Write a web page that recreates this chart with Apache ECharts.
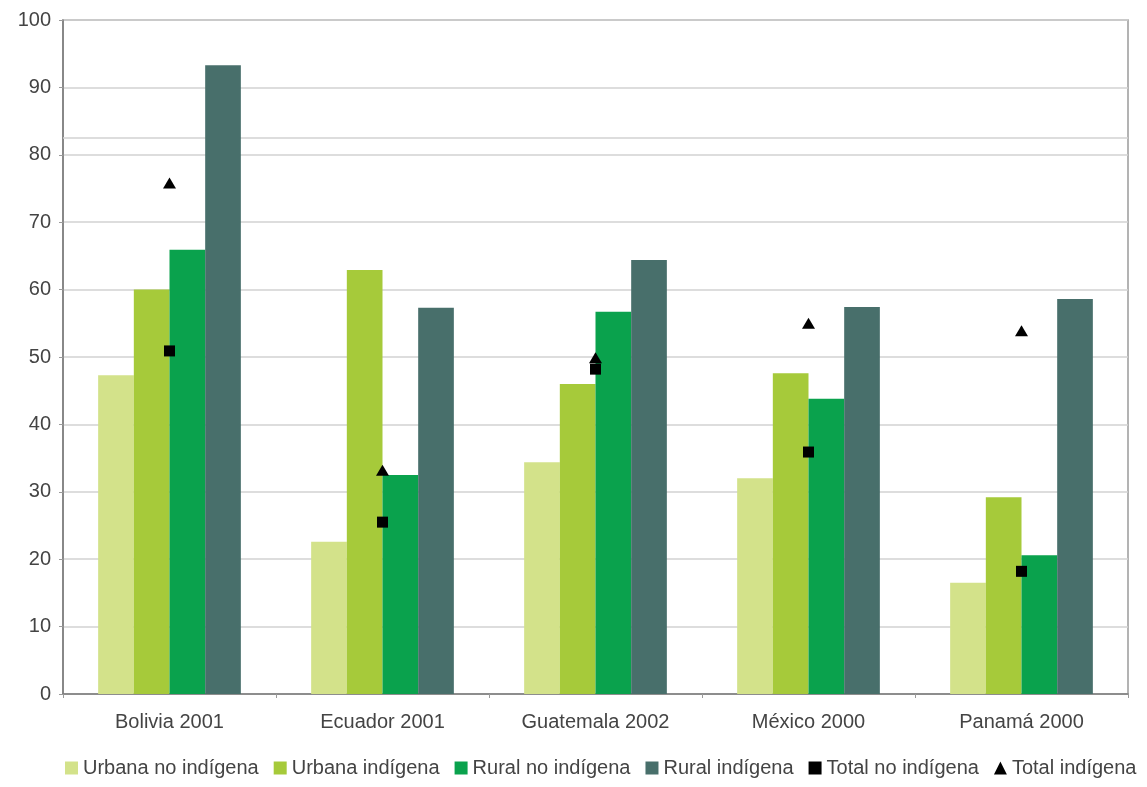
<!DOCTYPE html>
<html>
<head>
<meta charset="utf-8">
<script src="https://cdn.jsdelivr.net/npm/echarts@6/dist/echarts.min.js"></script>
<style>
  html, body { margin: 0; padding: 0; background: #fff; }
  #chart { width: 1147px; height: 787px; }
</style>
</head>
<body>
<div id="chart"></div>
<script>
// Countries and census years
const categories = ['Bolivia 2001', 'Ecuador 2001', 'Guatemala 2002', 'México 2000', 'Panamá 2000'];

// Percentages by area and population group
const urbanaNoIndigena = [47.3, 22.6, 34.4, 32.0, 16.5];
const urbanaIndigena   = [60.0, 62.9, 46.0, 47.6, 29.2];
const ruralNoIndigena  = [65.9, 32.5, 56.7, 43.8, 20.6];
const ruralIndigena    = [93.3, 57.3, 64.4, 57.4, 58.6];
const totalNoIndigena  = [50.9, 25.5, 48.2, 35.9, 18.2];
const totalIndigena    = [75.8, 33.2, 49.9, 55.0, 53.9];

// Value axis ticks
const yTicks = [0, 10, 20, 30, 40, 50, 60, 70, 80, 90, 100];

const chart = echarts.init(document.getElementById('chart'));

const font = 'Liberation Sans, Arial, sans-serif';

function barSeries(name, data, color) {
  return {
    name, type: 'bar', data, z: 3,
    barGap: '0%', barCategoryGap: '33%',
    itemStyle: { color },
    emphasis: { disabled: true }
  };
}

chart.setOption({
  animation: false,
  textStyle: { fontFamily: font },
  grid: {
    left: 63, right: 19, top: 20, bottom: 93,
    show: true, borderColor: '#9a9a9a', borderWidth: 1.5
  },
  legend: {
    bottom: 9, left: 65, width: 1200, padding: 0,
    itemWidth: 13, itemHeight: 13, itemGap: 15,
    textStyle: { fontSize: 20, color: '#444', fontFamily: font, padding: [0, 0, 0, 0] },
    data: [
      { name: 'Urbana no indígena', icon: 'rect' },
      { name: 'Urbana indígena', icon: 'rect' },
      { name: 'Rural no indígena', icon: 'rect' },
      { name: 'Rural indígena', icon: 'rect' },
      { name: 'Total no indígena', icon: 'rect' },
      { name: 'Total indígena', icon: 'triangle' }
    ]
  },
  xAxis: {
    type: 'category', data: categories,
    axisLine: { lineStyle: { color: '#7a7a7a', width: 1.5 } },
    axisTick: { show: true, length: 4, lineStyle: { color: '#9a9a9a' } },
    axisLabel: { fontSize: 20, color: '#444', margin: 18, fontFamily: font }
  },
  yAxis: {
    type: 'value', min: 0, max: 100, interval: 10,
    axisLine: { show: true, lineStyle: { color: '#7a7a7a', width: 1.5 } },
    axisTick: { show: true, length: 4, lineStyle: { color: '#9a9a9a' } },
    axisLabel: {
      fontSize: 20, color: '#444', margin: 12, fontFamily: font,
      formatter: v => yTicks.includes(v) ? String(v) : ''
    },
    splitLine: { lineStyle: { color: '#d2d2d2', width: 1.5 } }
  },
  series: [
    Object.assign(barSeries('Urbana no indígena', urbanaNoIndigena, '#d3e28a'), {
      markLine: {
        silent: true, symbol: 'none', label: { show: false }, z: 1,
        lineStyle: { color: '#d2d2d2', type: 'solid', width: 1.5 },
        data: [{ yAxis: 82.6 }]
      }
    }),
    barSeries('Urbana indígena', urbanaIndigena, '#a6ca3a'),
    barSeries('Rural no indígena', ruralNoIndigena, '#0aa24d'),
    barSeries('Rural indígena', ruralIndigena, '#486f6b'),
    {
      name: 'Total no indígena', type: 'scatter', data: totalNoIndigena,
      symbol: 'rect', symbolSize: 11,
      itemStyle: { color: '#000', opacity: 1 }, z: 6
    },
    {
      name: 'Total indígena', type: 'scatter', data: totalIndigena,
      symbol: 'triangle', symbolSize: [13, 11],
      itemStyle: { color: '#000', opacity: 1 }, z: 6
    }
  ]
});
</script>
</body>
</html>
